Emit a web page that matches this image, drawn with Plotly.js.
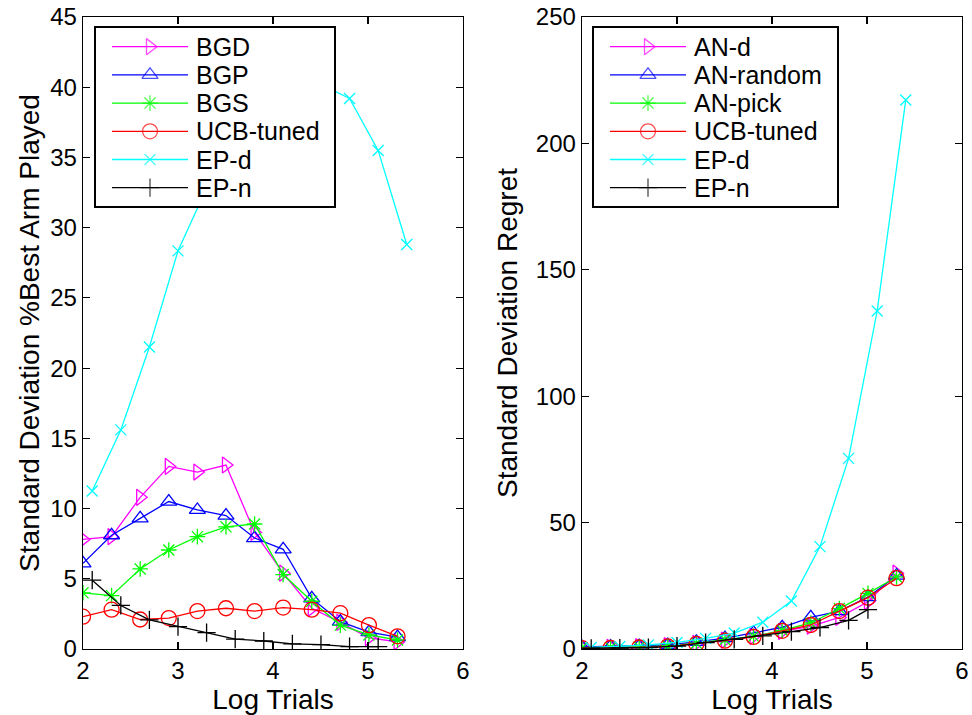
<!DOCTYPE html>
<html>
<head>
<meta charset="utf-8">
<script src="https://cdn.plot.ly/plotly-3.0.1.min.js"></script>
<style>html,body{margin:0;padding:0;background:#fff}#chart{width:972px;height:715px}</style>
</head>
<body>
<div id="chart"></div>
<script>
// x positions: log10 of trial counts (doubling)
const xMain = [2.0, 2.301, 2.602, 2.903, 3.204, 3.505, 3.806, 4.107, 4.408, 4.709, 5.01, 5.311];
const xEP = [2.097, 2.398, 2.699, 3.0, 3.301, 3.602, 3.903, 4.204, 4.505, 4.806, 5.107, 5.408];
const xEPnLeft = [2.097, 2.398, 2.699, 3.0, 3.301, 3.602, 3.903, 4.204, 4.505, 4.806, 5.107];
const xEPnRight = [2.097, 2.398, 2.699, 3.0, 3.301, 3.602, 3.903, 4.204, 4.505, 4.806, 5.01];

// Left panel: standard deviation of % best arm played
const bgd = [7.8, 8.0, 10.8, 13.0, 12.6, 13.1, 8.3, 5.4, 2.9, 1.9, 0.8, 0.5];
const bgp = [6.1, 8.1, 9.3, 10.5, 9.9, 9.5, 7.9, 7.1, 3.6, 1.95, 1.2, 0.85];
const bgs = [4.0, 3.8, 5.7, 7.05, 8.0, 8.7, 8.9, 5.3, 3.4, 1.7, 1.0, 0.64];
const ucbLeft = [2.3, 2.8, 2.1, 2.2, 2.7, 2.9, 2.7, 2.95, 2.8, 2.55, 1.7, 0.9];
const epdLeft = [11.25, 15.6, 21.5, 28.35, 32.8, 36.2, 38.6, 39.9, 40.2, 39.2, 35.5, 28.8];
const epnLeft = [4.9, 3.1, 2.07, 1.6, 1.16, 0.71, 0.57, 0.36, 0.31, 0.17, 0.17];

// Right panel: standard deviation of regret
const anD = [0.6, 0.7, 0.9, 1.3, 2.2, 3.5, 5.0, 7.0, 9.0, 12.5, 18.7, 30.0];
const anRandom = [0.8, 1.0, 1.2, 1.6, 2.8, 4.3, 6.4, 8.6, 12.5, 15.0, 20.5, 29.0];
const anPick = [0.5, 0.6, 0.8, 1.2, 2.3, 3.7, 5.0, 7.4, 10.3, 16.0, 22.0, 28.5];
const ucbRight = [0.3, 0.4, 0.6, 1.0, 2.0, 3.3, 4.8, 7.2, 9.5, 15.0, 20.3, 28.0];
const epdRight = [0.6, 1.0, 1.6, 2.6, 4.2, 6.3, 10.6, 19.0, 40.5, 75.4, 133.7, 217.2];
const epnRight = [0.3, 0.4, 0.6, 1.1, 2.5, 3.8, 5.2, 6.9, 8.5, 11.3, 15.6];

const namesLeft = ['BGD', 'BGP', 'BGS', 'UCB-tuned', 'EP-d', 'EP-n'];
const namesRight = ['AN-d', 'AN-random', 'AN-pick', 'UCB-tuned', 'EP-d', 'EP-n'];
const xTicks = [2, 3, 4, 5, 6];
const yTicksLeft = [0, 5, 10, 15, 20, 25, 30, 35, 40, 45];
const yTicksRight = [0, 50, 100, 150, 200, 250];

const styles = [
  {color: '#ff00ff', symbol: 'triangle-right-open', size: 14},
  {color: '#0000ff', symbol: 'triangle-up-open', size: 14},
  {color: '#00ff00', symbol: 'asterisk-open', size: 13},
  {color: '#ff0000', symbol: 'circle-open', size: 15},
  {color: '#00ffff', symbol: 'x-thin-open', size: 11},
  {color: '#000000', symbol: 'cross-thin-open', size: 13}
];

function tr(x, y, name, st, xa, ya) {
  return {
    x: x, y: y, name: name, type: 'scatter', mode: 'lines+markers',
    xaxis: xa, yaxis: ya, showlegend: false, hoverinfo: 'skip',
    line: {color: st.color, width: 1.3},
    marker: {symbol: st.symbol, size: st.size, color: st.color, line: {color: st.color, width: 1.3}}
  };
}

const leftY = [bgd, bgp, bgs, ucbLeft, epdLeft, epnLeft];
const leftX = [xMain, xMain, xMain, xMain, xEP, xEPnLeft];
const rightY = [anD, anRandom, anPick, ucbRight, epdRight, epnRight];
const rightX = [xMain, xMain, xMain, xMain, xEP, xEPnRight];

const data = [];
for (let i = 0; i < 6; i++) data.push(tr(leftX[i], leftY[i], namesLeft[i], styles[i], 'x', 'y'));
for (let i = 0; i < 6; i++) data.push(tr(rightX[i], rightY[i], namesRight[i], styles[i], 'x2', 'y2'));

// Legend boxes drawn as inset subplots (pixel coordinates inside each box)
const FONT = 'Liberation Sans, Arial, Helvetica, sans-serif';
const legRowY = [18.7, 46.9, 75.1, 103.3, 131.5, 159.7];
const annotations = [];
function addLegend(names, xa, ya) {
  for (let i = 0; i < 6; i++) {
    data.push({x: [16, 92], y: [legRowY[i], legRowY[i]], xaxis: xa, yaxis: ya, type: 'scatter', mode: 'lines',
      showlegend: false, hoverinfo: 'skip', line: {color: styles[i].color, width: 1.3}});
    annotations.push({xref: xa, yref: ya, x: 98, y: legRowY[i], text: names[i], showarrow: false,
      xanchor: 'left', yanchor: 'middle', font: {family: FONT, size: 25, color: '#000'}});
  }
  data.push({x: legRowY.map(() => 54), y: legRowY, xaxis: xa, yaxis: ya, type: 'scatter', mode: 'markers',
    showlegend: false, hoverinfo: 'skip',
    marker: {symbol: styles.map(s => s.symbol), size: styles.map(s => s.size), color: styles.map(s => s.color),
      line: {color: styles.map(s => s.color), width: 1.3}}});
}
addLegend(namesLeft, 'x3', 'y3');
addLegend(namesRight, 'x4', 'y4');

function axis(extra) {
  return Object.assign({
    showgrid: false, zeroline: false, showline: true, linecolor: '#000', linewidth: 1.3,
    mirror: 'allticks', ticks: 'inside', ticklen: 7, tickwidth: 1.2, tickcolor: '#000',
    tickfont: {family: FONT, size: 24, color: '#000'}, fixedrange: true
  }, extra);
}
function boxAxis(extra) {
  return Object.assign({
    showgrid: false, zeroline: false, showline: true, linecolor: '#000', linewidth: 1.6,
    mirror: true, ticks: '', showticklabels: false, fixedrange: true
  }, extra);
}
const titleFont = {family: FONT, size: 28, color: '#000'};

const layout = {
  width: 972, height: 715,
  margin: {l: 83, r: 10, t: 17, b: 66},
  paper_bgcolor: '#fff', plot_bgcolor: '#fff',
  showlegend: false,
  font: {family: FONT, color: '#000'},
  xaxis: axis({domain: [0, 0.4323], range: [2, 6], tickvals: xTicks, ticktext: xTicks.map(String),
    title: {text: 'Log Trials', font: titleFont, standoff: 4}}),
  yaxis: axis({range: [0, 45], tickvals: yTicksLeft, ticktext: yTicksLeft.map(String),
    title: {text: 'Standard Deviation %Best Arm Played', font: titleFont, standoff: 2}}),
  xaxis2: axis({domain: [0.5677, 1], range: [2, 6], anchor: 'y2', tickvals: xTicks, ticktext: xTicks.map(String),
    title: {text: 'Log Trials', font: titleFont, standoff: 4}}),
  yaxis2: axis({range: [0, 250], anchor: 'x2', tickvals: yTicksRight, ticktext: yTicksRight.map(String),
    title: {text: 'Standard Deviation Regret', font: titleFont, standoff: 10}}),
  xaxis3: boxAxis({domain: [0.01479, 0.28555], range: [0, 238], anchor: 'y3'}),
  yaxis3: boxAxis({domain: [0.70095, 0.98259], range: [178, 0], anchor: 'x3'}),
  xaxis4: boxAxis({domain: [0.58134, 0.85779], range: [0, 243], anchor: 'y4'}),
  yaxis4: boxAxis({domain: [0.70095, 0.98259], range: [178, 0], anchor: 'x4'}),
  annotations: annotations
};

Plotly.newPlot('chart', data, layout, {displayModeBar: false, staticPlot: true});
</script>
</body>
</html>
